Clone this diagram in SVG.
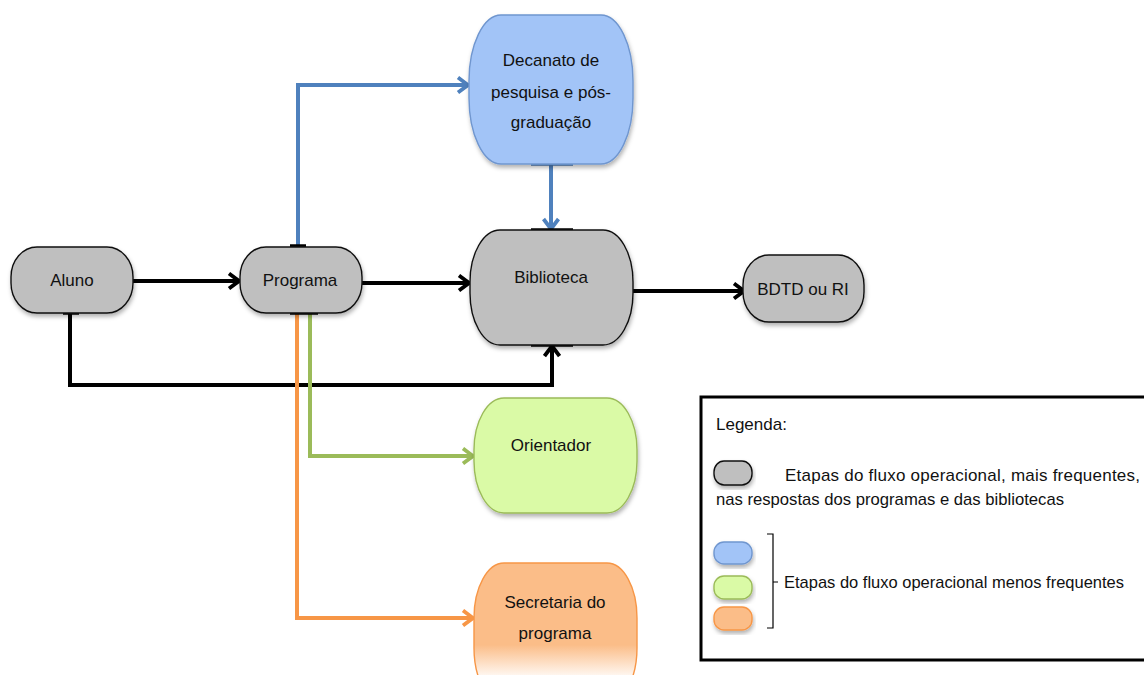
<svg xmlns="http://www.w3.org/2000/svg" width="1144" height="675" viewBox="0 0 1144 675">
<style>
text{font-family:"Liberation Sans",Arial,sans-serif;fill:#111;font-size:17px}
.c{text-anchor:middle}
.gray{fill:#bfbfbf;stroke:#111;stroke-width:1.4}
.blue{fill:#a2c4f7;stroke:#6f96cf;stroke-width:1.4}
.green{fill:#dafaa6;stroke:#9bbb59;stroke-width:1.4}
.orange{fill:url(#og);stroke:#f79646;stroke-width:1.4}
.bk{fill:none;stroke:#000;stroke-width:4}
.bl{fill:none;stroke:#4f81bd;stroke-width:4}
.gr{fill:none;stroke:#9bbb59;stroke-width:4}
.or{fill:none;stroke:#f79646;stroke-width:4}
.stub{stroke:#000;stroke-width:3.5}
</style>
<defs>
<filter id="sh" x="-10%" y="-10%" width="120%" height="130%">
<feDropShadow dx="1" dy="3" stdDeviation="2" flood-color="#000" flood-opacity="0.3"/>
</filter>
<linearGradient id="og" gradientUnits="userSpaceOnUse" x1="0" y1="563" x2="0" y2="680">
<stop offset="0" stop-color="#fbbd88"/>
<stop offset="0.7" stop-color="#fbbd88"/>
<stop offset="1" stop-color="#ffffff"/>
</linearGradient>
<marker id="ak" markerWidth="14" markerHeight="18" refX="12" refY="9" orient="auto" markerUnits="userSpaceOnUse"><path d="M2,1.5 L12,9 L2,16.5" fill="none" stroke="#000" stroke-width="3.8"/></marker>
<marker id="ab" markerWidth="14" markerHeight="18" refX="12" refY="9" orient="auto" markerUnits="userSpaceOnUse"><path d="M2,1.5 L12,9 L2,16.5" fill="none" stroke="#4f81bd" stroke-width="3.8"/></marker>
<marker id="ag" markerWidth="14" markerHeight="18" refX="12" refY="9" orient="auto" markerUnits="userSpaceOnUse"><path d="M2,1.5 L12,9 L2,16.5" fill="none" stroke="#9bbb59" stroke-width="3.8"/></marker>
<marker id="ao" markerWidth="14" markerHeight="18" refX="12" refY="9" orient="auto" markerUnits="userSpaceOnUse"><path d="M2,1.5 L12,9 L2,16.5" fill="none" stroke="#f79646" stroke-width="3.8"/></marker>
</defs>
<rect width="1144" height="675" fill="#fff"/>

<g id="connectors">
<path class="bk" d="M133,281 H239" marker-end="url(#ak)"/>
<path class="bk" d="M362,283 H469" marker-end="url(#ak)"/>
<path class="bk" d="M633,291 H744" marker-end="url(#ak)"/>
<path class="bk" d="M70,313 V385 H552 V346" marker-end="url(#ak)"/>
<path class="bl" d="M298,246 V85 H468" marker-end="url(#ab)"/>
<path class="bl" d="M551,164 V229" marker-end="url(#ab)"/>
<path class="or" d="M297,313 V618 H473" marker-end="url(#ao)"/>
<path class="gr" d="M310,313 V456 H473" marker-end="url(#ag)"/>
<line class="stub" x1="290" y1="246" x2="306" y2="246"/>
<line class="stub" x1="290" y1="313" x2="318" y2="313"/>
<line class="stub" x1="63" y1="313" x2="79" y2="313"/>
<line class="stub" x1="531" y1="230" x2="573" y2="230"/>
<line class="stub" x1="531" y1="345" x2="573" y2="345"/>
<line x1="531" y1="164" x2="573" y2="164" stroke="#4f81bd" stroke-width="3.5"/>
</g>

<g id="aluno">
<rect class="gray" x="11" y="247" width="122" height="66" rx="26" ry="30" filter="url(#sh)"/>
<text class="c" x="72" y="286">Aluno</text>
</g>
<g id="programa">
<rect class="gray" x="240" y="247" width="122" height="66" rx="26" ry="30" filter="url(#sh)"/>
<text class="c" x="300" y="286">Programa</text>
</g>
<g id="biblioteca">
<rect class="gray" x="470" y="230" width="163" height="115" rx="30" ry="52" filter="url(#sh)"/>
<text class="c" x="551" y="283">Biblioteca</text>
</g>
<g id="decanato">
<rect class="blue" x="469" y="15" width="164" height="149" rx="32" ry="66" filter="url(#sh)"/>
<text class="c" x="551" y="66">Decanato de</text>
<text class="c" x="551" y="98">pesquisa e pós-</text>
<text class="c" x="551" y="128">graduação</text>
</g>
<g id="bdtd">
<rect class="gray" x="743" y="255" width="121" height="67" rx="26" ry="30" filter="url(#sh)"/>
<text class="c" x="803" y="295">BDTD ou RI</text>
</g>
<g id="orientador">
<rect class="green" x="474" y="398" width="163" height="115" rx="30" ry="52" filter="url(#sh)"/>
<text class="c" x="551" y="451">Orientador</text>
</g>
<g id="secretaria">
<rect class="orange" x="474" y="563" width="163" height="140" rx="30" ry="55"/>
<text class="c" x="555" y="608">Secretaria do</text>
<text class="c" x="555" y="639">programa</text>
</g>

<g id="legenda">
<rect x="701" y="397" width="460" height="263" fill="#fff" stroke="#000" stroke-width="3"/>
<text x="716" y="430">Legenda:</text>
<rect class="gray" x="714" y="461" width="38" height="24" rx="10" ry="11" filter="url(#sh)"/>
<text x="785" y="481" textLength="355" lengthAdjust="spacing">Etapas do fluxo operacional, mais frequentes,</text>
<text x="716" y="505" textLength="348" lengthAdjust="spacingAndGlyphs">nas respostas dos programas e das bibliotecas</text>
<rect class="blue" x="714" y="542" width="38" height="22" rx="10" ry="10" filter="url(#sh)"/>
<rect class="green" x="714" y="576" width="38" height="23" rx="10" ry="10" filter="url(#sh)"/>
<rect class="orange" x="714" y="607" width="38" height="23" rx="10" ry="10" style="fill:#fbbd88" filter="url(#sh)"/>
<path d="M767,534 H773 V628 H767 M773,582 H778" fill="none" stroke="#000" stroke-width="1.2"/>
<text x="784" y="588" textLength="340" lengthAdjust="spacingAndGlyphs">Etapas do fluxo operacional menos frequentes</text>
</g>
</svg>
